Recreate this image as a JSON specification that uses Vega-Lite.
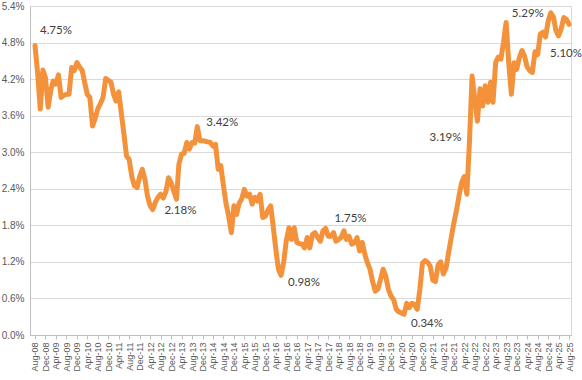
{
  "$schema": "https://vega.github.io/schema/vega-lite/v6.json",
  "width": 541,
  "height": 329,
  "autosize": {"type": "none"},
  "padding": {"left": 30, "top": 6, "right": 11, "bottom": 45},
  "background": "white",
  "config": {"view": {"stroke": "#d9d9d9"}, "font": "Liberation Sans"},
  "data": {"values": [
    {"d":"2008/08/01","v":4.75},{"d":"2008/09/01","v":4.30},{"d":"2008/10/01","v":3.71},{"d":"2008/11/01","v":4.35},{"d":"2008/12/01","v":4.22},
    {"d":"2009/01/01","v":3.74},{"d":"2009/02/01","v":4.02},{"d":"2009/03/01","v":4.17},{"d":"2009/04/01","v":4.12},{"d":"2009/05/01","v":4.27},{"d":"2009/06/01","v":3.90},{"d":"2009/07/01","v":3.93},{"d":"2009/08/01","v":3.95},{"d":"2009/09/01","v":3.95},{"d":"2009/10/01","v":4.39},{"d":"2009/11/01","v":4.34},{"d":"2009/12/01","v":4.47},
    {"d":"2010/01/01","v":4.40},{"d":"2010/02/01","v":4.34},{"d":"2010/03/01","v":4.15},{"d":"2010/04/01","v":3.95},{"d":"2010/05/01","v":3.90},{"d":"2010/06/01","v":3.43},{"d":"2010/07/01","v":3.55},{"d":"2010/08/01","v":3.71},{"d":"2010/09/01","v":3.80},{"d":"2010/10/01","v":3.90},{"d":"2010/11/01","v":4.21},{"d":"2010/12/01","v":4.18},
    {"d":"2011/01/01","v":4.15},{"d":"2011/02/01","v":3.95},{"d":"2011/03/01","v":3.84},{"d":"2011/04/01","v":3.99},{"d":"2011/05/01","v":3.65},{"d":"2011/06/01","v":3.30},{"d":"2011/07/01","v":2.94},{"d":"2011/08/01","v":2.88},{"d":"2011/09/01","v":2.60},{"d":"2011/10/01","v":2.45},{"d":"2011/11/01","v":2.42},{"d":"2011/12/01","v":2.60},
    {"d":"2012/01/01","v":2.72},{"d":"2012/02/01","v":2.55},{"d":"2012/03/01","v":2.28},{"d":"2012/04/01","v":2.12},{"d":"2012/05/01","v":2.06},{"d":"2012/06/01","v":2.18},{"d":"2012/07/01","v":2.26},{"d":"2012/08/01","v":2.31},{"d":"2012/09/01","v":2.25},{"d":"2012/10/01","v":2.35},{"d":"2012/11/01","v":2.58},{"d":"2012/12/01","v":2.50},
    {"d":"2013/01/01","v":2.36},{"d":"2013/02/01","v":2.23},{"d":"2013/03/01","v":2.80},{"d":"2013/04/01","v":2.97},{"d":"2013/05/01","v":2.98},{"d":"2013/06/01","v":3.16},{"d":"2013/07/01","v":3.05},{"d":"2013/08/01","v":3.16},{"d":"2013/09/01","v":3.15},{"d":"2013/10/01","v":3.42},{"d":"2013/11/01","v":3.19},{"d":"2013/12/01","v":3.19},
    {"d":"2014/01/01","v":3.18},{"d":"2014/02/01","v":3.17},{"d":"2014/03/01","v":3.16},{"d":"2014/04/01","v":3.10},{"d":"2014/05/01","v":3.13},{"d":"2014/06/01","v":2.72},{"d":"2014/07/01","v":2.78},{"d":"2014/08/01","v":2.45},{"d":"2014/09/01","v":2.15},{"d":"2014/10/01","v":1.95},{"d":"2014/11/01","v":1.68},{"d":"2014/12/01","v":2.12},
    {"d":"2015/01/01","v":1.98},{"d":"2015/02/01","v":2.17},{"d":"2015/03/01","v":2.23},{"d":"2015/04/01","v":2.39},{"d":"2015/05/01","v":2.28},{"d":"2015/06/01","v":2.31},{"d":"2015/07/01","v":2.15},{"d":"2015/08/01","v":2.26},{"d":"2015/09/01","v":2.20},{"d":"2015/10/01","v":2.31},{"d":"2015/11/01","v":1.93},{"d":"2015/12/01","v":1.95},
    {"d":"2016/01/01","v":2.05},{"d":"2016/02/01","v":2.12},{"d":"2016/03/01","v":1.79},{"d":"2016/04/01","v":1.41},{"d":"2016/05/01","v":1.08},{"d":"2016/06/01","v":0.98},{"d":"2016/07/01","v":1.19},{"d":"2016/08/01","v":1.55},{"d":"2016/09/01","v":1.76},{"d":"2016/10/01","v":1.57},{"d":"2016/11/01","v":1.76},{"d":"2016/12/01","v":1.52},
    {"d":"2017/01/01","v":1.50},{"d":"2017/02/01","v":1.49},{"d":"2017/03/01","v":1.43},{"d":"2017/04/01","v":1.60},{"d":"2017/05/01","v":1.43},{"d":"2017/06/01","v":1.65},{"d":"2017/07/01","v":1.68},{"d":"2017/08/01","v":1.60},{"d":"2017/09/01","v":1.54},{"d":"2017/10/01","v":1.71},{"d":"2017/11/01","v":1.75},{"d":"2017/12/01","v":1.62},
    {"d":"2018/01/01","v":1.62},{"d":"2018/02/01","v":1.68},{"d":"2018/03/01","v":1.54},{"d":"2018/04/01","v":1.57},{"d":"2018/05/01","v":1.60},{"d":"2018/06/01","v":1.71},{"d":"2018/07/01","v":1.57},{"d":"2018/08/01","v":1.62},{"d":"2018/09/01","v":1.49},{"d":"2018/10/01","v":1.51},{"d":"2018/11/01","v":1.60},{"d":"2018/12/01","v":1.38},
    {"d":"2019/01/01","v":1.52},{"d":"2019/02/01","v":1.32},{"d":"2019/03/01","v":1.19},{"d":"2019/04/01","v":1.08},{"d":"2019/05/01","v":0.88},{"d":"2019/06/01","v":0.72},{"d":"2019/07/01","v":0.75},{"d":"2019/08/01","v":0.91},{"d":"2019/09/01","v":1.08},{"d":"2019/10/01","v":0.97},{"d":"2019/11/01","v":0.75},{"d":"2019/12/01","v":0.64},
    {"d":"2020/01/01","v":0.58},{"d":"2020/02/01","v":0.42},{"d":"2020/03/01","v":0.38},{"d":"2020/04/01","v":0.36},{"d":"2020/05/01","v":0.34},{"d":"2020/06/01","v":0.52},{"d":"2020/07/01","v":0.45},{"d":"2020/08/01","v":0.52},{"d":"2020/09/01","v":0.50},{"d":"2020/10/01","v":0.42},{"d":"2020/11/01","v":0.75},{"d":"2020/12/01","v":1.18},
    {"d":"2021/01/01","v":1.22},{"d":"2021/02/01","v":1.19},{"d":"2021/03/01","v":1.13},{"d":"2021/04/01","v":0.90},{"d":"2021/05/01","v":0.88},{"d":"2021/06/01","v":1.15},{"d":"2021/07/01","v":1.20},{"d":"2021/08/01","v":1.00},{"d":"2021/09/01","v":1.10},{"d":"2021/10/01","v":1.35},{"d":"2021/11/01","v":1.60},{"d":"2021/12/01","v":1.84},
    {"d":"2022/01/01","v":2.05},{"d":"2022/02/01","v":2.30},{"d":"2022/03/01","v":2.50},{"d":"2022/04/01","v":2.60},{"d":"2022/05/01","v":2.31},{"d":"2022/06/01","v":3.19},{"d":"2022/07/01","v":4.25},{"d":"2022/08/01","v":3.87},{"d":"2022/09/01","v":3.51},{"d":"2022/10/01","v":4.04},{"d":"2022/11/01","v":3.76},{"d":"2022/12/01","v":4.09},
    {"d":"2023/01/01","v":3.82},{"d":"2023/02/01","v":4.15},{"d":"2023/03/01","v":3.82},{"d":"2023/04/01","v":4.47},{"d":"2023/05/01","v":4.56},{"d":"2023/06/01","v":4.53},{"d":"2023/07/01","v":4.80},{"d":"2023/08/01","v":5.13},{"d":"2023/09/01","v":4.45},{"d":"2023/10/01","v":3.95},{"d":"2023/11/01","v":4.47},{"d":"2023/12/01","v":4.36},
    {"d":"2024/01/01","v":4.55},{"d":"2024/02/01","v":4.67},{"d":"2024/03/01","v":4.58},{"d":"2024/04/01","v":4.40},{"d":"2024/05/01","v":4.34},{"d":"2024/06/01","v":4.31},{"d":"2024/07/01","v":4.65},{"d":"2024/08/01","v":4.60},{"d":"2024/09/01","v":4.94},{"d":"2024/10/01","v":4.97},{"d":"2024/11/01","v":4.89},{"d":"2024/12/01","v":5.15},
    {"d":"2025/01/01","v":5.29},{"d":"2025/02/01","v":5.22},{"d":"2025/03/01","v":5.00},{"d":"2025/04/01","v":4.91},{"d":"2025/05/01","v":5.02},{"d":"2025/06/01","v":5.21},{"d":"2025/07/01","v":5.18},{"d":"2025/08/01","v":5.10}
  ]},
  "encoding": {
    "x": {
      "field": "d", "type": "temporal",
      "scale": {"domain": [{"year": 2008, "month": 6, "date": 4}, {"year": 2025, "month": 8, "date": 24}]},
      "axis": {
        "title": null, "format": "%b-%y", "labelAngle": 270, "labelAlign": "right", "labelBaseline": "middle",
        "labelFontSize": 9, "labelColor": "#595959", "labelPadding": 3, "labelOverlap": false, "labelFlush": false, "labelBound": false,
        "tickColor": "#bfbfbf", "tickSize": 4, "domainColor": "#bfbfbf", "grid": false,
        "values": [
          {"year":2008,"month":8,"date":1},{"year":2008,"month":12,"date":1},
          {"year":2009,"month":4,"date":1},{"year":2009,"month":8,"date":1},{"year":2009,"month":12,"date":1},
          {"year":2010,"month":4,"date":1},{"year":2010,"month":8,"date":1},{"year":2010,"month":12,"date":1},
          {"year":2011,"month":4,"date":1},{"year":2011,"month":8,"date":1},{"year":2011,"month":12,"date":1},
          {"year":2012,"month":4,"date":1},{"year":2012,"month":8,"date":1},{"year":2012,"month":12,"date":1},
          {"year":2013,"month":4,"date":1},{"year":2013,"month":8,"date":1},{"year":2013,"month":12,"date":1},
          {"year":2014,"month":4,"date":1},{"year":2014,"month":8,"date":1},{"year":2014,"month":12,"date":1},
          {"year":2015,"month":4,"date":1},{"year":2015,"month":8,"date":1},{"year":2015,"month":12,"date":1},
          {"year":2016,"month":4,"date":1},{"year":2016,"month":8,"date":1},{"year":2016,"month":12,"date":1},
          {"year":2017,"month":4,"date":1},{"year":2017,"month":8,"date":1},{"year":2017,"month":12,"date":1},
          {"year":2018,"month":4,"date":1},{"year":2018,"month":8,"date":1},{"year":2018,"month":12,"date":1},
          {"year":2019,"month":4,"date":1},{"year":2019,"month":8,"date":1},{"year":2019,"month":12,"date":1},
          {"year":2020,"month":4,"date":1},{"year":2020,"month":8,"date":1},{"year":2020,"month":12,"date":1},
          {"year":2021,"month":4,"date":1},{"year":2021,"month":8,"date":1},{"year":2021,"month":12,"date":1},
          {"year":2022,"month":4,"date":1},{"year":2022,"month":8,"date":1},{"year":2022,"month":12,"date":1},
          {"year":2023,"month":4,"date":1},{"year":2023,"month":8,"date":1},{"year":2023,"month":12,"date":1},
          {"year":2024,"month":4,"date":1},{"year":2024,"month":8,"date":1},{"year":2024,"month":12,"date":1},
          {"year":2025,"month":4,"date":1},{"year":2025,"month":8,"date":1}
        ]
      }
    },
    "y": {
      "field": "v", "type": "quantitative",
      "scale": {"domain": [0, 5.4], "nice": false, "zero": true},
      "axis": {
        "title": null, "values": [0, 0.6, 1.2, 1.8, 2.4, 3.0, 3.6, 4.2, 4.8, 5.4],
        "labelExpr": "format(datum.value, '.1f') + '%'",
        "labelFontSize": 10, "labelColor": "#595959", "labelPadding": 6,
        "ticks": false, "domainColor": "#bfbfbf", "gridColor": "#d9d9d9"
      }
    }
  },
  "layer": [
    {"mark": {"type": "line", "color": "#F4913B", "strokeWidth": 5, "strokeJoin": "round", "strokeCap": "round"}},
    {"data": {"values": [{"d":"2008/08/01","v":4.75,"t":"4.75%"}]},
     "mark": {"type": "text", "align": "left", "baseline": "middle", "dx": 5, "dy": -15, "font": "Lato", "fontSize": 11.5, "color": "#404040"},
     "encoding": {"text": {"field": "t"}}},
    {"data": {"values": [{"d":"2012/06/01","v":2.18,"t":"2.18%"}]},
     "mark": {"type": "text", "align": "left", "baseline": "middle", "dx": 9, "dy": 9, "font": "Lato", "fontSize": 11.5, "color": "#404040"},
     "encoding": {"text": {"field": "t"}}},
    {"data": {"values": [{"d":"2013/10/01","v":3.42,"t":"3.42%"}]},
     "mark": {"type": "text", "align": "left", "baseline": "middle", "dx": 9, "dy": -4, "font": "Lato", "fontSize": 11.5, "color": "#404040"},
     "encoding": {"text": {"field": "t"}}},
    {"data": {"values": [{"d":"2016/06/01","v":0.98,"t":"0.98%"}]},
     "mark": {"type": "text", "align": "left", "baseline": "middle", "dx": 7, "dy": 8, "font": "Lato", "fontSize": 11.5, "color": "#404040"},
     "encoding": {"text": {"field": "t"}}},
    {"data": {"values": [{"d":"2017/11/01","v":1.75,"t":"1.75%"}]},
     "mark": {"type": "text", "align": "left", "baseline": "middle", "dx": 9, "dy": -9, "font": "Lato", "fontSize": 11.5, "color": "#404040"},
     "encoding": {"text": {"field": "t"}}},
    {"data": {"values": [{"d":"2020/05/01","v":0.34,"t":"0.34%"}]},
     "mark": {"type": "text", "align": "left", "baseline": "middle", "dx": 7, "dy": 10, "font": "Lato", "fontSize": 11.5, "color": "#404040"},
     "encoding": {"text": {"field": "t"}}},
    {"data": {"values": [{"d":"2022/06/01","v":3.19,"t":"3.19%"}]},
     "mark": {"type": "text", "align": "right", "baseline": "middle", "dx": -8, "dy": -3, "font": "Lato", "fontSize": 11.5, "color": "#404040"},
     "encoding": {"text": {"field": "t"}}},
    {"data": {"values": [{"d":"2025/01/01","v":5.29,"t":"5.29%"}]},
     "mark": {"type": "text", "align": "right", "baseline": "middle", "dx": -7, "dy": 1, "font": "Lato", "fontSize": 11.5, "color": "#404040"},
     "encoding": {"text": {"field": "t"}}},
    {"data": {"values": [{"d":"2025/08/01","v":5.10,"t":"5.10%"}]},
     "mark": {"type": "text", "align": "center", "baseline": "middle", "dx": -3, "dy": 30, "font": "Lato", "fontSize": 11.5, "color": "#404040"},
     "encoding": {"text": {"field": "t"}}}
  ]
}
